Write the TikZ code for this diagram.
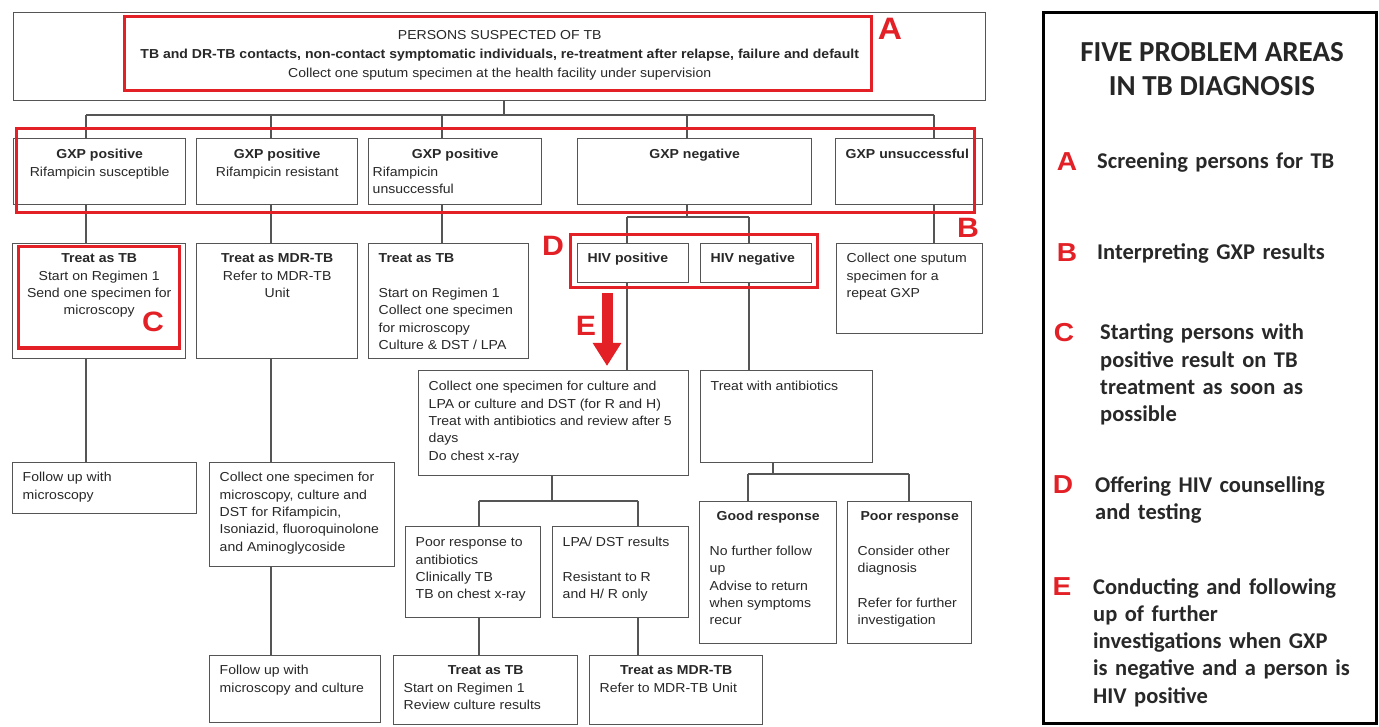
\documentclass[tikz,border=0pt]{standalone}
\usepackage{fontspec}
\setmainfont{Liberation Sans}
\newfontfamily\chartfont[FakeStretch=1.08]{Liberation Sans}
\newfontfamily\panelfont{Carlito}
\usetikzlibrary{arrows.meta,positioning}
\definecolor{markred}{RGB}{226,32,38}
\definecolor{linegray}{RGB}{85,85,85}
\definecolor{inkgray}{RGB}{40,40,40}
\tikzset{>=stealth}
% boxed text: [top pad]{width}{height}{text}
\newcommand{\cell}[4][7]{\parbox[t][\dimexpr#3pt\relax][t]{\dimexpr#2pt-8pt\relax}{\vspace*{#1pt}\strut#4}}
\newcommand{\lft}{\raggedright\leftskip=6pt\relax}
\newcommand{\chartsize}{\chartfont\fontsize{13}{17.3}\selectfont}

\begin{document}
\begin{tikzpicture}[x=1pt,y=-1pt,
    box/.style={draw=linegray, line width=1.4pt, inner xsep=4pt, inner ysep=0pt,
      anchor=north west, font=\chartsize, text=inkgray},
    link/.style={draw=linegray, line width=1.4pt},
    areabox/.style={draw=markred, line width=3pt},
    tag/.style={text=markred, inner sep=0pt, font={\chartfont\bfseries\fontsize{28}{28}\selectfont}},
    key/.style={text=markred, inner sep=0pt, font={\chartfont\bfseries\fontsize{26}{26}\selectfont}},
    entry/.style={anchor=base west, text width=275pt, align=left, inner sep=0pt,
      text=inkgray, font={\panelfont\bfseries\fontsize{22.5}{27.3}\selectfont}}]
  \fill[white] (0,0) rectangle (1379,727);
  \useasboundingbox (0,0) rectangle (1379,727);

  % top box
  \node[box] (top) at (13,12) {\cell[15]{972}{88}{\centering\setlength{\baselineskip}{19pt}PERSONS SUSPECTED OF TB\\\textbf{TB and DR-TB contacts, non-contact symptomatic individuals, re-treatment after relapse, failure and default}\\Collect one sputum specimen at the health facility under supervision}};

  % GXP results
  \node[box] (gxp1) at (13,138) {\cell[8]{172}{66}{\centering\textbf{GXP positive}\\Rifampicin susceptible}};
  \node[box] (gxp2) at (196,138) {\cell[8]{161}{66}{\centering\textbf{GXP positive}\\Rifampicin resistant}};
  \node[box] (gxp3) at (368,138) {\cell[8]{173}{66}{{\centering\textbf{GXP positive}\par}\raggedright Rifampicin\\unsuccessful}};
  \node[box] (gxp4) at (577,138) {\cell[8]{234}{66}{\centering\textbf{GXP negative}}};
  \node[box] (gxp5) at (835,138) {\cell[8]{147}{66}{\lft\textbf{GXP unsuccessful}}};

  % third row
  \node[box] (treat1) at (12,243) {\cell{173}{115}{\centering\textbf{Treat as TB}\\Start on Regimen 1\\Send one specimen for\\microscopy}};
  \node[box] (treat2) at (196,243) {\cell{161}{115}{\centering\textbf{Treat as MDR-TB}\\Refer to MDR-TB\\Unit}};
  \node[box] (treat3) at (368,243) {\cell{160}{115}{\lft\textbf{Treat as TB}\\[17.3pt]Start on Regimen 1\\Collect one specimen\\for microscopy\\Culture \& DST / LPA}};
  \node[box] (hivpos) at (577,243) {\cell{111}{39}{\lft\textbf{HIV positive}}};
  \node[box] (hivneg) at (700,243) {\cell{111}{39}{\lft\textbf{HIV negative}}};
  \node[box] (sputum) at (836,243) {\cell{146}{90}{\lft Collect one sputum\\specimen for a\\repeat GXP}};

  % fourth row
  \node[box] (fu1) at (12,462) {\cell{184}{51}{\lft Follow up with\\microscopy}};
  \node[box] (coll2) at (209,462) {\cell{185}{104}{\lft Collect one specimen for\\microscopy, culture and\\DST for Rifampicin,\\Isoniazid, fluoroquinolone\\and Aminoglycoside}};
  \node[box] (coll3) at (418,370) {\cell[8]{270}{105}{\lft Collect one specimen for culture and\\LPA or culture and DST (for R and H)\\Treat with antibiotics and review after 5\\days\\Do chest x-ray}};
  \node[box] (antib) at (700,370) {\cell[8]{172}{92}{\lft Treat with antibiotics}};

  % fifth row
  \node[box] (poorab) at (405,526) {\cell[8]{135}{91}{\lft Poor response to\\antibiotics\\Clinically TB\\TB on chest x-ray}};
  \node[box] (lpa) at (552,526) {\cell[8]{136}{91}{\lft LPA/ DST results\\[17.3pt]Resistant to R\\and H/ R only}};
  \node[box] (good) at (699,501) {\cell{137}{142}{{\centering\textbf{Good response}\par}\vspace{17.3pt}\lft No further follow\\up\\Advise to return\\when symptoms\\recur}};
  \node[box] (poorr) at (847,501) {\cell{124}{142}{{\centering\textbf{Poor response}\par}\vspace{17.3pt}\lft Consider other\\diagnosis\\[17.3pt]Refer for further\\investigation}};

  % last row
  \node[box] (fu2) at (209,655) {\cell{171}{67}{\lft Follow up with\\microscopy and culture}};
  \node[box] (ttb) at (393,655) {\cell{184}{69}{{\centering\textbf{Treat as TB}\par}\lft Start on Regimen 1\\Review culture results}};
  \node[box] (tmdr) at (589,655) {\cell{173}{69}{{\centering\textbf{Treat as MDR-TB}\par}\lft Refer to MDR-TB Unit}};

  % connectors
  \coordinate (hub) at (504,115);
  \coordinate (c1) at (86,115);
  \coordinate (c2) at (271,115);
  \coordinate (c3) at (442,115);
  \coordinate (c4) at (687,115);
  \coordinate (c5) at (934,115);
  \draw[link] (top.south -| hub) -- (hub);
  \draw[link] (c1) -- (c5);
  \draw[link] (c1) -- (gxp1.north -| c1);
  \draw[link] (c2) -- (gxp2.north -| c2);
  \draw[link] (c3) -- (gxp3.north -| c3);
  \draw[link] (c4) -- (gxp4.north -| c4);
  \draw[link] (c5) -- (gxp5.north -| c5);
  \draw[link] (gxp1.south -| c1) -- (treat1.north -| c1);
  \draw[link] (treat1.south -| c1) -- (fu1.north -| c1);
  \draw[link] (gxp2.south -| c2) -- (treat2.north -| c2);
  \draw[link] (treat2.south -| c2) -- (coll2.north -| c2);
  \draw[link] (coll2.south -| c2) -- (fu2.north -| c2);
  \draw[link] (gxp3.south -| c3) -- (treat3.north -| c3);
  \draw[link] (gxp5.south -| c5) -- (sputum.north -| c5);

  \coordinate (j4) at (687,217);
  \coordinate (hp) at (627,217);
  \coordinate (hn) at (749,217);
  \draw[link] (gxp4.south -| j4) -- (j4);
  \draw[link] (hp) -- (hn);
  \draw[link] (hp) -- (hivpos.north -| hp);
  \draw[link] (hn) -- (hivneg.north -| hn);
  \draw[link] (hivpos.south -| hp) -- (coll3.north -| hp);
  \draw[link] (hivneg.south -| hn) -- (antib.north -| hn);

  \coordinate (j5) at (552,501);
  \coordinate (pa) at (479,501);
  \coordinate (la) at (638,501);
  \draw[link] (coll3.south -| j5) -- (j5);
  \draw[link] (pa) -- (la);
  \draw[link] (pa) -- (poorab.north -| pa);
  \draw[link] (la) -- (lpa.north -| la);
  \draw[link] (poorab.south -| pa) -- (ttb.north -| pa);
  \draw[link] (lpa.south -| la) -- (tmdr.north -| la);

  \coordinate (j6) at (773,474);
  \coordinate (gr) at (748,474);
  \coordinate (pr) at (909,474);
  \draw[link] (antib.south -| j6) -- (j6);
  \draw[link] (gr) -- (pr);
  \draw[link] (gr) -- (good.north -| gr);
  \draw[link] (pr) -- (poorr.north -| pr);

  % problem areas
  \draw[areabox] (124,17) rectangle (871,91);
  \draw[areabox] (16,129) rectangle (974,213);
  \draw[areabox] (18,247) rectangle (179,348);
  \draw[areabox] (570,235) rectangle (817,288);
  \coordinate (etop) at (607,293);
  \coordinate (ebot) at (607,366);
  \draw[markred, line width=11pt, -{Triangle[width=27pt,length=23pt]}] (etop) -- (ebot);
  \node[tag, font={\chartfont\bfseries\fontsize{31}{31}\selectfont}] (tagA) at (890,29) {A};
  \node[tag] (tagB) at (968,228) {B};
  \node[tag] (tagC) at (153,322) {C};
  \node[tag] (tagD) at (553,246) {D};
  \node[tag] (tagE) at (586,326) {E};

  % right panel
  \draw[line width=3pt, black] (1043,13) rectangle (1376,723);
  \node[align=center, text=black!85, font={\panelfont\bfseries\fontsize{29}{34}\selectfont}] (title) at (1212,69) {FIVE PROBLEM AREAS\\IN TB DIAGNOSIS};
  \node[key] (keyA) at (1067,162) {A};
  \node[key] (keyB) at (1067,253) {B};
  \node[key] (keyC) at (1064,333) {C};
  \node[key] (keyD) at (1063,485) {D};
  \node[key] (keyE) at (1062,587) {E};
  \node[entry] (textA) at (1097,169) {Screening persons for TB};
  \node[entry] (textB) at (1097,260) {Interpreting GXP results};
  \node[entry] (textC) at (1100,340) {Starting persons with\\positive result on TB\\treatment as soon as\\possible};
  \node[entry] (textD) at (1095,492) {Offering HIV counselling\\and testing};
  \node[entry] (textE) at (1093,594) {Conducting and following\\up of further\\investigations when GXP\\is negative and a person is\\HIV positive};
\end{tikzpicture}
\end{document}
